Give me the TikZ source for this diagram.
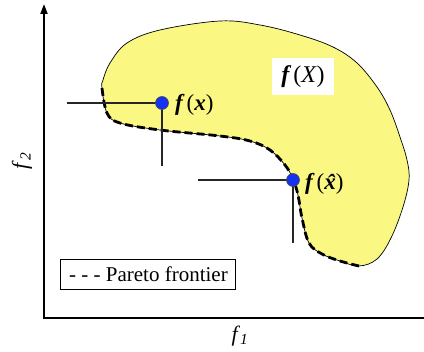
\documentclass[tikz,border=0pt]{standalone}
\usepackage{fontspec}
\setmainfont{Liberation Serif}
\usetikzlibrary{arrows.meta}
\definecolor{blobyellow}{RGB}{250,247,130}
\definecolor{dotblue}{RGB}{20,50,240}
\begin{document}
\begin{tikzpicture}[x=1pt,y=-1pt,
  dot/.style={circle,fill=dotblue,draw=black!70,line width=0.6pt,minimum size=13pt,inner sep=0pt},
  guide/.style={line width=1.3pt,draw=black!85},
  frontier/.style={line width=2.8pt,dash pattern=on 8pt off 4pt},
  lab/.style={font=\fontsize{23}{26}\selectfont,inner sep=0pt,anchor=west},
  axis/.style={line width=2pt,line join=miter}]
\useasboundingbox (0,0) rectangle (424,352);
\fill[white] (0,0) rectangle (424,352);
% feasible region
\draw[fill=blobyellow,line width=0.7pt] plot[smooth cycle,tension=0.6] coordinates {(102,88) (107,113) (120,123) (160,130) (220,136) (250,141) (270,150) (285,165) (293,179) (298,195) (302,218) (309,243) (322,254) (340,261) (359,266) (377,259) (391,238) (403,207) (409,180) (407,160) (400,137) (390,110) (377,87) (357,63) (333,47) (300,35) (260,25) (220,21) (160,30) (127,43) (110,63) (103,80)};
% Pareto frontier
\draw[frontier] plot[smooth,tension=0.6] coordinates {(102,88) (107,113) (120,123) (160,130) (220,136) (250,141) (270,150) (285,165) (293,179) (298,195) (302,218) (309,243) (322,254) (340,261) (359,266)};
% axes
\coordinate (O) at (44,318);
\coordinate (ytop) at (44,4);
\coordinate (xend) at (424,318);
\draw[axis,-{Triangle[length=10pt,width=7pt]}] (xend) -- (O) -- (ytop);
\node[rotate=90,font=\fontsize{22}{24}\selectfont,inner sep=0pt] (f2) at (22,161) {\textit{f}\textsubscript{\textit{2}}};
\node[font=\fontsize{22}{24}\selectfont,inner sep=0pt] (f1) at (240,336) {\textit{f}\textsubscript{\textit{1}}};
% points
\coordinate (c1) at (162,103);
\coordinate (c1h) at (67,103);
\coordinate (c1v) at (162,166);
\coordinate (c2) at (293,180);
\coordinate (c2h) at (198,180);
\coordinate (c2v) at (293,243);
\draw[guide] (c1h) -- (c1) -- (c1v);
\draw[guide] (c2h) -- (c2) -- (c2v);
\node[dot] (p1) at (c1) {};
\node[dot] (p2) at (c2) {};
\node[lab] (l1) at (175,105) {{\bfseries\itshape f}\,(\textbf{\textit{x}})};
\node[lab] (l2) at (305,184) {{\bfseries\itshape f}\,(\textbf{\textit{x\makebox[0pt][r]{\raisebox{-0.04em}{\char"02C6}\hspace{0.06em}}}})};
% region label
\node[fill=white,inner sep=0pt,minimum width=62pt,minimum height=37pt,font=\fontsize{24}{27}\selectfont] (fX) at (303,77) {{\bfseries\itshape f}\,(\textit{X})};
% legend
\node[draw,line width=0.8pt,minimum width=175pt,minimum height=30pt,anchor=north west,inner sep=0pt] (legend) at (60,259) {};
\node[font=\fontsize{21}{24}\selectfont,anchor=west,inner sep=0pt] (legtxt) at (69,274) {- - - Pareto frontier};
\end{tikzpicture}
\end{document}
